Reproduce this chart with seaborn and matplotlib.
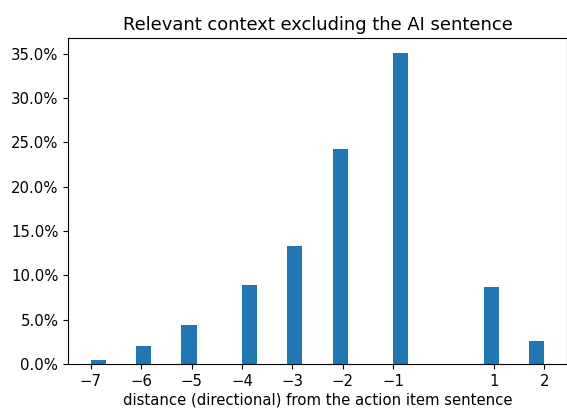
import numpy as np
import pandas as pd
import matplotlib
matplotlib.use("Agg")
import matplotlib.pyplot as plt
import seaborn as sns
from matplotlib.ticker import PercentFormatter

# distance of relevant context sentence from the action item sentence
distances = [-7, -6, -5, -4, -3, -2, -1, 1, 2]
share_pct = [0.45, 2.05, 4.4, 8.95, 13.3, 24.3, 35.05, 8.7, 2.6]
xtick_vals = [-7, -6, -5, -4, -3, -2, -1, 1, 2]

df = pd.DataFrame({"distance": distances, "share": share_pct})

plt.rcParams["font.size"] = 10.75

fig = plt.figure(figsize=(5.67, 4.08), dpi=100)
ax = fig.add_axes([0.12, 0.108, 0.88, 0.799])

sns.histplot(data=df, x="distance", weights="share", bins=30, binrange=(-7, 2),
             color="#1f77b4", alpha=1, linewidth=0, ax=ax)

ax.set_xticks(xtick_vals)
ax.yaxis.set_major_formatter(PercentFormatter(xmax=100, decimals=1))
ax.set_title("Relevant context excluding the AI sentence")
ax.set_xlabel("distance (directional) from the action item sentence", labelpad=3)
ax.set_ylabel("")

fig.savefig("out.png", dpi=100)
